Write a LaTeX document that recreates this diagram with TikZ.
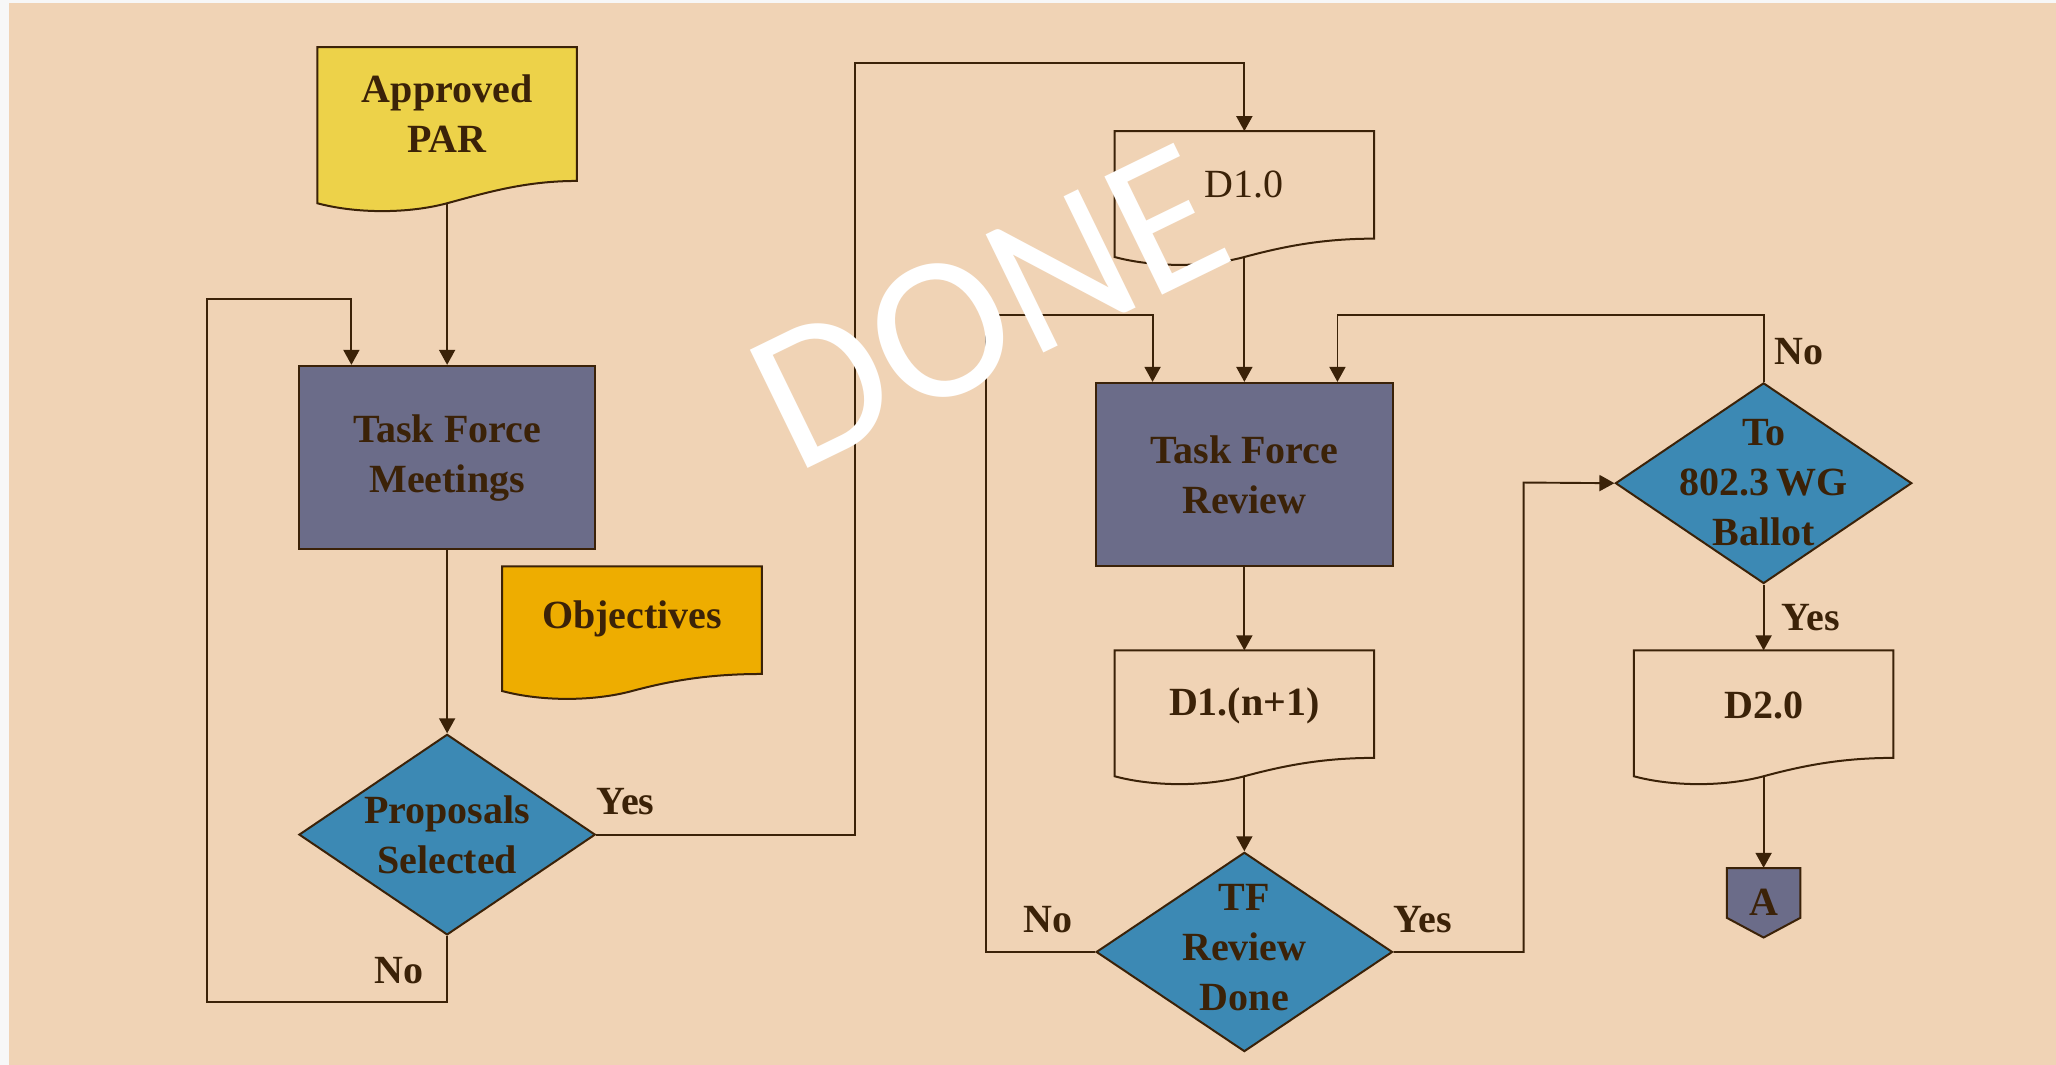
\documentclass[tikz,border=0pt]{standalone}
\usepackage{fontspec}
\setmainfont{Liberation Serif}
\newfontfamily\wmfont{Carlito}
\usetikzlibrary{shapes.geometric,arrows.meta,calc}
\definecolor{bgc}{HTML}{F0D3B5}
\definecolor{ink}{HTML}{3B2208}
\definecolor{parY}{HTML}{EDD249}
\definecolor{objY}{HTML}{EEAD00}
\definecolor{boxP}{HTML}{6B6C89}
\definecolor{dmdB}{HTML}{3C89B4}
\newcommand\docshape[7]{%
  \draw[outl, fill=#7] ({#2-#4/2},#3) -- ({#2+#4/2},#3) -- ({#2+#4/2},{#3+#5-#6})
    .. controls ({#2+0.3*#4},{#3+#5-#6}) and ({#2+0.15*#4},{#3+#5-8}) .. (#2,{#3+#5})
    .. controls ({#2-0.15*#4},{#3+#5+8}) and ({#2-0.35*#4},{#3+#5+8}) .. ({#2-#4/2},{#3+#5}) -- cycle;
  \coordinate (#1-top) at (#2,#3);
  \coordinate (#1-bot) at (#2,{#3+#5});
}
\begin{document}
\begin{tikzpicture}[x=1.3112pt,y=-1.3112pt,
  txt/.style={font=\fontsize{40}{50}\selectfont\bfseries, text=ink, align=center, inner sep=0pt},
  outl/.style={draw=ink, line width=2pt},
  procbox/.style={outl, fill=boxP, rectangle, minimum width=226*1.3112pt, minimum height=140*1.3112pt, txt},
  decision/.style={outl, fill=dmdB, diamond, minimum width=226*1.3112pt, minimum height=153*1.3112pt, inner sep=0pt},
  conn/.style={draw=ink, line width=1.9pt},
  arr/.style={conn, -{Triangle[length=15pt,width=16pt]}}
]
\fill[white!97!black] (0,0) rectangle (1568,812);
\fill[bgc] (7,2.3) rectangle (1568,812);
\useasboundingbox (0,0) rectangle (1568,812);

% documents
\docshape{par}{341}{36}{198}{119}{17}{parY}
\node[txt] (par) at (341,86.5) {Approved\\PAR};
\docshape{obj}{482}{432}{198}{95}{13}{objY}
\node[txt] (obj) at (482,472) {Objectives};
\docshape{d10}{949}{100}{198}{96}{14}{bgc}
\node[txt, font=\fontsize{40}{50}\selectfont] (d10) at (949,141) {D1.0};
\docshape{dn}{949}{496}{198}{96}{14}{bgc}
\node[txt] (dn) at (949,538) {D1.(n+1)};
\docshape{d20}{1345}{496}{198}{96}{14}{bgc}
\node[txt] (d20) at (1345,538) {D2.0};

% process boxes
\node[procbox] (tfm) at (341,349) {Task Force\\Meetings};
\node[procbox] (tfr) at (949,362) {Task Force\\Review};

% decisions
\node[decision] (pss) at (341,636.5) {};
\node[txt] (pss-t) at (pss) {Proposals\\Selected};
\node[decision, minimum height=152*1.3112pt] (tfd) at (949,726) {};
\node[txt] (tfd-t) at (949,723) {TF\\Review\\Done};
\node[decision] (wg) at (1345,368.5) {};
\node[txt] (wg-t) at (1345,368) {To\\802.3\,WG\\Ballot};

% off-page connector
\draw[outl, fill=boxP] (1317,662) -- (1373,662) -- (1373,700) -- (1345,715) -- (1317,700) -- cycle;
\node[txt, minimum width=56*1.3112pt, minimum height=53*1.3112pt] (conA) at (1345,688.5) {A};

% waypoints
\coordinate (l1) at (158,764);
\coordinate (l2) at (158,228);
\coordinate (l3) at (268,228);
\coordinate (y1) at (652,48);
\coordinate (n1) at (752,240);
\coordinate (n2) at (879,240);
\coordinate (t1) at (1162,368);
\coordinate (w1) at (1020,240);

% connectors
\draw[arr] (par-bot) -- (tfm);
\draw[arr] (tfm) -- (pss);
\draw[arr] (pss.south) |- (l1) -- (l2) -- (l3) -- (l3 |- tfm.north);
\draw[arr] (pss.east) -| (y1) -| (d10-top);
\draw[arr] (d10-bot) -- (tfr);
\draw[arr] (tfr) -- (dn-top);
\draw[arr] (dn-bot) -- (tfd);
\draw[arr] (tfd.west) -| (n1) -- (n2) -- (n2 |- tfr.north);
\draw[arr] (tfd.east) -| (t1) -- (wg.west);
\draw[arr] (wg.north) |- (w1) -- (w1 |- tfr.north);
\draw[arr] (wg) -- (d20-top);
\draw[arr] (d20-bot) -- (conA);

% labels
\node[txt] (lyes1) at (477,611) {Yes};
\node[txt] (lno1) at (304,740) {No};
\node[txt] (lno2) at (799,701) {No};
\node[txt] (lyes2) at (1085,701) {Yes};
\node[txt] (lno3) at (1372,268) {No};
\node[txt] (lyes3) at (1381,471) {Yes};

% watermark
\node[font=\wmfont\fontsize{205}{205}\selectfont, text=white, rotate=26, inner sep=0pt] (done) at (754,234) {DONE};
\end{tikzpicture}
\end{document}
